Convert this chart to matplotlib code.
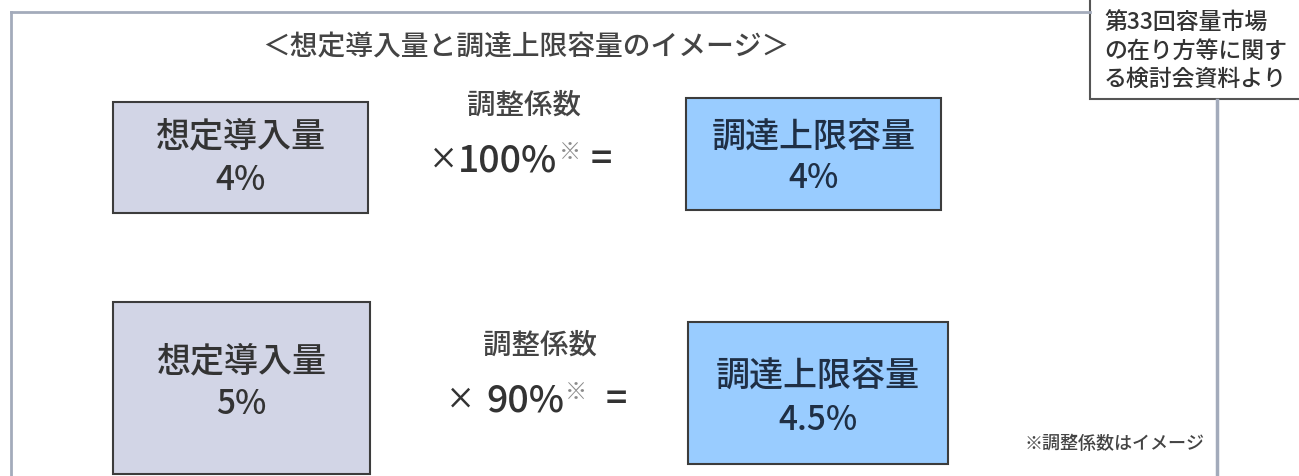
import matplotlib
matplotlib.use("Agg")
import matplotlib.pyplot as plt
from matplotlib.patches import Rectangle

plt.rcParams['font.family'] = ['Noto Sans CJK JP', 'DejaVu Sans']
plt.rcParams['font.weight'] = 'medium'

# ---- content ----
title = "＜想定導入量と調達上限容量のイメージ＞"
source_note = ["第33回容量市場", "の在り方等に関す", "る検討会資料より"]
input_label = "想定導入量"
input_values = ["4%", "5%"]
coef_label = "調整係数"
coef_values = ["100%", "90%"]
output_label = "調達上限容量"
output_values = ["4%", "4.5%"]
footnote = "※調整係数はイメージ"

# ---- layout (pixel coords) ----
W, H = 1299, 476
fig = plt.figure(figsize=(W / 100, H / 100), dpi=100)
ax = fig.add_axes([0, 0, 1, 1])
ax.set_xlim(0, W)
ax.set_ylim(H, 0)
ax.axis('off')

frame_col = '#a3abbb'
txt = '#333333'
in_fill = '#d2d5e6'
out_fill = '#99ccff'
edge = '#3c3c3c'
out_txt = '#1f2f45'

# outer frame
ax.plot([11, 11], [H + 5, 12], color=frame_col, lw=2)
ax.plot([11, 1090], [12, 12], color=frame_col, lw=2)
ax.plot([1217, 1217], [100, H + 5], color=frame_col, lw=2.5)

# source note box
ax.add_patch(Rectangle((1090, -5), 230, 104, facecolor='white', edgecolor='#555555', lw=1.5))
for i, line in enumerate(source_note):
    ax.text(1104, 23 + i * 28, line, fontsize=16.5, color=txt, ha='left', va='center')

# title
ax.text(526, 47, title, fontsize=20, color='#444444', ha='center', va='center')

rows = [
    dict(inbox=(113, 102, 255, 111), in_ty=(137, 180),
         outbox=(686, 98, 255, 112), out_ty=(138, 179),
         coef_y=105, eq_y=160, xs=(443, 508, 570, 601)),
    dict(inbox=(113, 302, 257, 172), in_ty=(362, 405),
         outbox=(688, 322, 260, 142), out_ty=(377, 421),
         coef_y=345, eq_y=400, xs=(460, 525, 576, 616)),
]

for r, row in enumerate(rows):
    x, y, w, h = row['inbox']
    ax.add_patch(Rectangle((x, y), w, h, facecolor=in_fill, edgecolor=edge, lw=1.5))
    cx = x + w / 2
    ax.text(cx, row['in_ty'][0], input_label, fontsize=24.5, color=txt, ha='center', va='center')
    ax.text(cx, row['in_ty'][1], input_values[r], fontsize=24, color=txt, ha='center', va='center')

    x, y, w, h = row['outbox']
    ax.add_patch(Rectangle((x, y), w, h, facecolor=out_fill, edgecolor=edge, lw=1.5))
    cx = x + w / 2
    ax.text(cx, row['out_ty'][0], output_label, fontsize=24.5, color=out_txt, ha='center', va='center')
    ax.text(cx, row['out_ty'][1], output_values[r], fontsize=24, color=out_txt, ha='center', va='center')

    xs = row['xs']
    ax.text((xs[0] + xs[3]) / 2 + 2, row['coef_y'], coef_label, fontsize=20.5, color='#444444',
            ha='center', va='center')
    ax.text(xs[0], row['eq_y'], "×", fontsize=21, color=txt, ha='center', va='center')
    ax.text(xs[1], row['eq_y'], coef_values[r], fontsize=27, color=txt, ha='center', va='center')
    ax.text(xs[2], row['eq_y'] - 8, "※", fontsize=16, color='#8a8a8a',
            ha='center', va='center')
    ax.text(xs[3], row['eq_y'], "=", fontsize=27, color=txt, ha='center', va='center')

ax.text(1115, 444, footnote, fontsize=13, color='#444444', ha='center', va='center')

fig.savefig('out.png', dpi=100, facecolor='white')
